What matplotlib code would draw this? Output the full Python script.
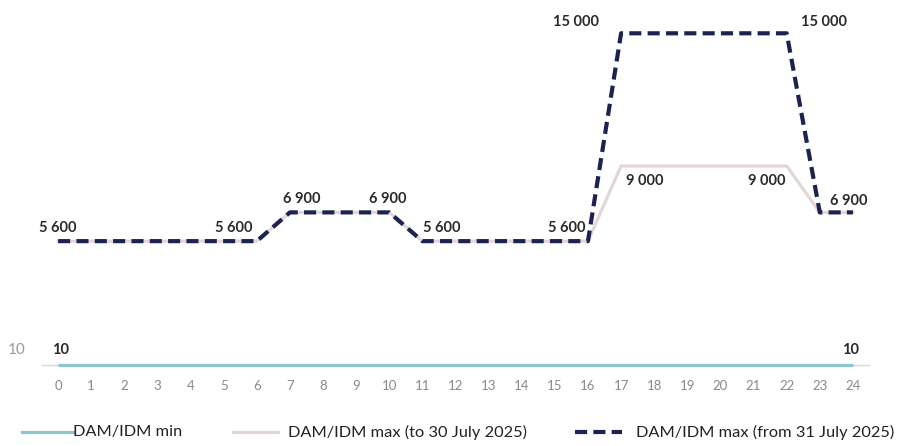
import matplotlib.pyplot as plt
from matplotlib.lines import Line2D

plt.rcParams['font.family'] = ['Lato', 'DejaVu Sans']

# hours and limits
hours = list(range(25))
dam_min = [10] * 25
dam_max_old = [5600] * 7 + [6900] * 4 + [5600] * 6 + [9000] * 6 + [6900] * 2
dam_max_new = [5600] * 7 + [6900] * 4 + [5600] * 6 + [15000] * 6 + [6900] * 2

# value labels: (hour, value, text, dx px, dy px, ha, va)
labels = [
    (0, 5600, "5 600", 0, 6, "center", "bottom"),
    (6, 5600, "5 600", -4, 6, "right", "bottom"),
    (7, 6900, "6 900", 12, 6, "center", "bottom"),
    (10, 6900, "6 900", -2, 6, "center", "bottom"),
    (11, 5600, "5 600", 1, 6, "left", "bottom"),
    (16, 5600, "5 600", -2, 6, "right", "bottom"),
    (17, 15000, "15 000", -22, 4, "right", "bottom"),
    (22, 15000, "15 000", 14, 4, "left", "bottom"),
    (17, 9000, "9 000", 5, -8, "left", "top"),
    (22, 9000, "9 000", -1, -8, "right", "top"),
    (24, 6900, "6 900", -4, 4, "center", "bottom"),
    (0, 10, "10", 2, 15, "center", "center"),
    (24, 10, "10", -2, 15, "center", "center"),
]

c_min = "#8ec5cd"
c_old = "#e2d6d8"
c_new = "#1c2350"

fig = plt.figure(figsize=(8.97, 4.46), dpi=100)
ax = fig.add_axes([0.0463, 0.1817, 0.923, 0.818])

ax.plot(hours, dam_min, color=c_min, lw=2.3, solid_capstyle="butt", zorder=3, clip_on=False)
ax.plot(hours, dam_max_old, color=c_old, lw=2.3, zorder=2)
ax.plot(hours, dam_max_new, color=c_new, lw=3, dashes=(2.9, 1.5), zorder=4)

for h, v, t, dx, dy, ha, va in labels:
    ax.annotate(t, (h, v), xytext=(dx * 0.72, dy * 0.72), textcoords="offset points",
                ha=ha, va=va, fontsize=10.5, fontweight="bold", color="#2a2a2a")

ax.set_xlim(-0.5, 24.5)
ax.set_ylim(0, 16500)
ax.set_xticks(hours)
ax.tick_params(axis="x", length=0, pad=11, labelsize=9.5, labelcolor="#8a8a8a")
ax.set_yticks([])
for s in ["top", "right", "left"]:
    ax.spines[s].set_visible(False)
ax.spines["bottom"].set_color("#d9d9d9")
ax.spines["bottom"].set_linewidth(1)

# stray y label on the left
fig.text(8 / 897, 1 - 350 / 446, "10", fontsize=11, color="#999999", ha="left", va="center")

# legend
W, H = 897, 446
ly = 1 - 432 / H
items = [
    (22, 73, c_min, None, 2.3, 73, "DAM/IDM min"),
    (233, 278, c_old, None, 2.3, 288, "DAM/IDM max (to 30 July 2025)"),
    (575, 622, c_new, (2.9, 1.5), 3, 636, "DAM/IDM max (from 31 July 2025)"),
]
for x0, x1, c, d, lw, tx, txt in items:
    ln = Line2D([x0 / W, x1 / W], [ly, ly], color=c, lw=lw, transform=fig.transFigure)
    if d:
        ln.set_dashes(d)
    fig.add_artist(ln)
    fig.text(tx / W, ly, txt, fontsize=11.8, color="#222222", ha="left", va="center")

fig.savefig("out.png", dpi=100)
